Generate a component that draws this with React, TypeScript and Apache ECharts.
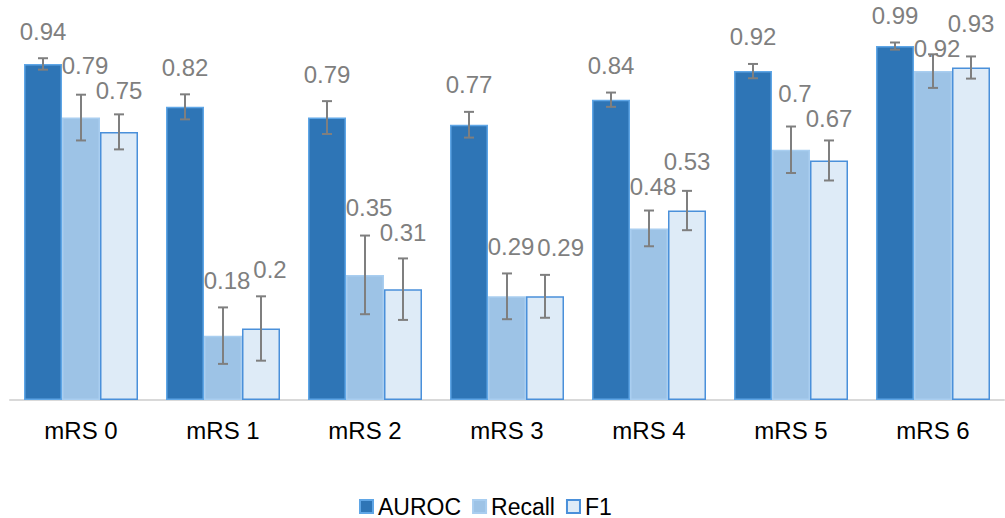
import React, { useEffect, useRef } from "react";
import * as echarts from "echarts";

const categories = ["mRS 0", "mRS 1", "mRS 2", "mRS 3", "mRS 4", "mRS 5", "mRS 6"];
const seriesNames = ["AUROC", "Recall", "F1"];
const aurocValues = [0.94, 0.82, 0.79, 0.77, 0.84, 0.92, 0.99];
const recallValues = [0.79, 0.18, 0.35, 0.29, 0.48, 0.7, 0.92];
const f1Values = [0.75, 0.2, 0.31, 0.29, 0.53, 0.67, 0.93];
const aurocErrors = [0.016, 0.035, 0.046, 0.036, 0.02, 0.02, 0.01];
const recallErrors = [0.064, 0.079, 0.11, 0.064, 0.05, 0.065, 0.047];
const f1Errors = [0.049, 0.09, 0.086, 0.06, 0.055, 0.056, 0.031];

const FONT = "'Liberation Sans', Arial, sans-serif";
const BAR_W = 38;
const LABEL_FS = 24;

const allValues = [aurocValues, recallValues, f1Values];
const allErrors = [aurocErrors, recallErrors, f1Errors];

function textWidth(t: string, fs: number) {
  let w = 0;
  for (const c of t) w += c === "." ? 0.278 : 0.556;
  return w * fs;
}

type LP = { x: number; y: number; w: number };

function layoutLabels(api: any, k: number): LP[] {
  const h = LABEL_FS;
  const pos: LP[] = [0, 1, 2].map((i) => {
    const top = api.coord([k, allValues[i][k] + allErrors[i][k]]);
    return {
      x: top[0] + (i - 1) * BAR_W + (i === 1 ? 4 : 0),
      y: top[1] - 27,
      w: textWidth(String(allValues[i][k]), LABEL_FS),
    };
  });
  const hOverlap = (a: LP, b: LP) => Math.abs(a.x - b.x) < (a.w + b.w) / 2 + 2;
  const vOverlap = (a: LP, b: LP) => Math.abs(a.y - b.y) < h + 1;
  // Recall vs AUROC: push recall below
  if (hOverlap(pos[1], pos[0]) && vOverlap(pos[1], pos[0])) {
    pos[1].y = pos[0].y + h + 3;
  }
  // F1 vs Recall
  const a = pos[1];
  const b = pos[2];
  if (hOverlap(a, b) && vOverlap(a, b)) {
    const dy = Math.abs(a.y - b.y);
    const nx = a.x + (a.w + b.w) / 2 + 3;
    if (dy < h / 2 && nx + b.w / 2 <= 1002) {
      b.x = nx;
    } else {
      const deficit = h + 1 - dy;
      if (a.y <= b.y) {
        a.y -= deficit / 2;
        b.y += deficit / 2;
      } else {
        a.y += deficit / 2;
        b.y -= deficit / 2;
      }
    }
  }
  return pos;
}

export default function App() {
  const ref = useRef<HTMLDivElement>(null);
  useEffect(() => {
    if (!ref.current) return;
    const chart = echarts.init(ref.current, undefined, { renderer: "svg" });
    const styles = [
      { color: "#2E75B6", borderColor: "#5FA6E6", borderWidth: 1.5 },
      { color: "#9DC3E6", borderColor: "#A9CEF0", borderWidth: 1.5 },
      { color: "#DEEBF7", borderColor: "#4A90DA", borderWidth: 1.5 },
    ];
    const barSeries = seriesNames.map((name, i) => ({
      name,
      type: "bar",
      data: allValues[i],
      barWidth: BAR_W,
      barGap: "0%",
      itemStyle: styles[i],
      z: 2,
    }));
    const errSeries = seriesNames.map((name, i) => ({
      name: name + "_err",
      type: "custom",
      z: 5,
      data: allValues[i].map((v, k) => [k, v, allErrors[i][k]]),
      renderItem: (params: any, api: any) => {
        const cat = api.value(0);
        const v = api.value(1);
        const e = api.value(2);
        const offset = (i - 1) * BAR_W;
        const top = api.coord([cat, v + e]);
        const bot = api.coord([cat, v - e]);
        const x = top[0] + offset;
        const cap = 5;
        const ls = { stroke: "#7F7F7F", lineWidth: 2 };
        const lp = layoutLabels(api, cat)[i];
        return {
          type: "group",
          children: [
            { type: "line", shape: { x1: x, y1: top[1], x2: x, y2: bot[1] }, style: ls },
            { type: "line", shape: { x1: x - cap, y1: top[1], x2: x + cap, y2: top[1] }, style: ls },
            { type: "line", shape: { x1: x - cap, y1: bot[1], x2: x + cap, y2: bot[1] }, style: ls },
            {
              type: "text",
              style: {
                text: String(v),
                x: lp.x,
                y: lp.y,
                align: "center",
                verticalAlign: "middle",
                fontSize: LABEL_FS,
                fontFamily: FONT,
                fill: "#7F7F7F",
              },
            },
          ],
        };
      },
    }));
    chart.setOption({
      animation: false,
      grid: { left: 10, right: 1, top: 42.5, bottom: 118, containLabel: false },
      legend: {
        data: seriesNames,
        left: 354,
        top: 490,
        icon: "rect",
        itemWidth: 13,
        itemHeight: 13,
        itemGap: 11,
        textStyle: { fontSize: 23, fontFamily: FONT, color: "#000" },
      },
      xAxis: {
        type: "category",
        data: categories,
        axisLine: { show: true, lineStyle: { color: "#D9D9D9", width: 2 } },
        axisTick: { show: false },
        axisLabel: { fontSize: 24, fontFamily: FONT, color: "#000", margin: 18 },
      },
      yAxis: {
        type: "value",
        min: 0,
        max: 1,
        show: false,
        splitLine: { show: false },
      },
      series: [...barSeries, ...errSeries],
    });
    return () => chart.dispose();
  }, []);
  return (
    <div
      ref={ref}
      style={{ position: "fixed", left: 0, top: 0, width: 1005, height: 518, background: "#fff" }}
    />
  );
}
